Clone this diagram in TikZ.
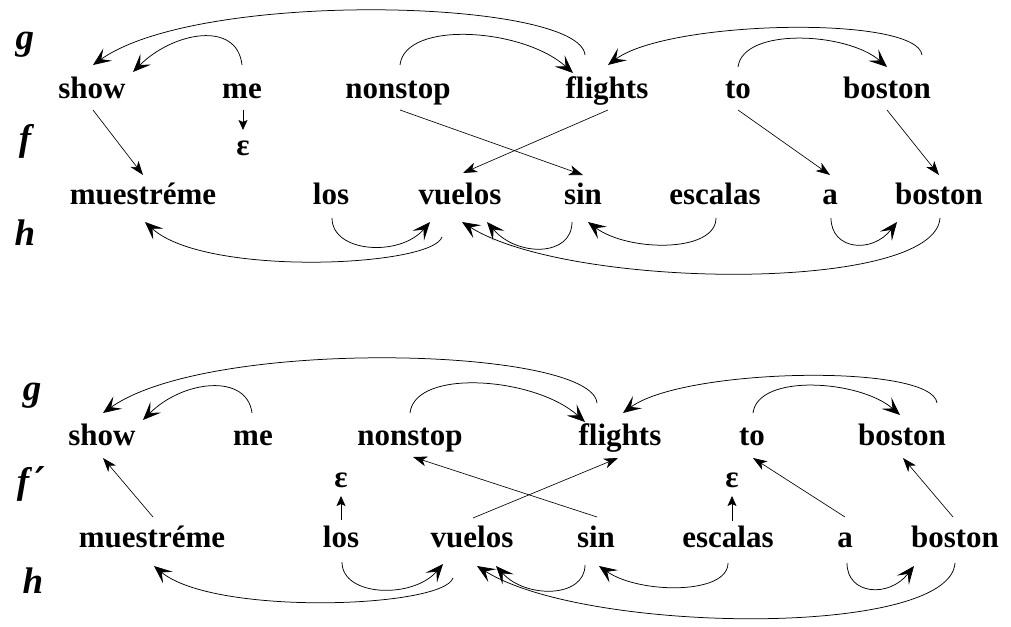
\documentclass[tikz,border=0pt]{standalone}
\usepackage{fontspec}
\newfontfamily\libser{Liberation Serif}
\newfontfamily\dvser{DejaVu Serif}
\usetikzlibrary{arrows.meta,calc}
\tikzset{
  word/.style={font=\libser\bfseries\fontsize{31}{31}\selectfont, anchor=base, inner sep=0pt},
  lbl/.style={font=\libser\bfseries\itshape\fontsize{37}{37}\selectfont, anchor=base, inner sep=0pt},
  arc/.style={line width=0.75pt, -{Stealth[length=18pt,width=15pt,inset=8pt]}},
  link/.style={line width=0.65pt, -{Stealth[length=14pt,width=10pt,inset=4pt]}},
  tiny/.style={line width=0.8pt, -{Stealth[length=10pt,width=9pt,inset=2pt]}},
}
\begin{document}
\begin{tikzpicture}[x=1pt,y=-1pt]
\useasboundingbox (0,0) rectangle (1011,626);
% ---------- top diagram ----------
\node[lbl] (gA) at (25,50) {g};
\node[lbl] (fA) at (25,150) {f};
\node[lbl] (hA) at (25,245) {h};
\node[word] (show) at (92,98) {show};
\node[word] (me) at (242,98) {me};
\node[word] (nonstop) at (398,98) {nonstop};
\node[word] (flights) at (607,98) {flights};
\node[word] (to) at (738,98) {to};
\node[word] (boston) at (887,98) {boston};
\node[word] (epsA) at (243,155) {ε};
\node[word] (muestreme) at (143,204) {muestréme};
\node[word] (los) at (331,204) {los};
\node[word] (vuelos) at (460,204) {vuelos};
\node[word] (sin) at (583,204) {sin};
\node[word] (escalas) at (715,204) {escalas};
\node[word] (a) at (830,204) {a};
\node[word] (bostonB) at (939,204) {boston};
% g arcs
\draw[arc] ($(flights.base)+(-22,-43)$) .. controls +(-5,-56) and +(107,-76) .. ($(show.base)+(1,-33)$);
\draw[arc] ($(me.base)+(0,-33)$) .. controls +(-5,-45) and +(40,-40) .. ($(show.base)+(41,-26)$);
\draw[arc] ($(nonstop.base)+(2,-33)$) .. controls +(5,-45) and +(-50,-45) .. ($(flights.base)+(-34,-25)$);
\draw[arc] ($(boston.base)+(35,-43)$) .. controls +(-5,-40) and +(60,-45) .. ($(flights.base)+(1,-33)$);
\draw[arc] ($(to.base)+(0,-31)$) .. controls +(5,-40) and +(-40,-35) .. ($(boston.base)+(0,-31)$);
% f links
\draw[link] ($(show.base)+(1,12)$) -- ($(muestreme.base)+(0,-29)$);
\draw[tiny] ($(me.base)+(1,12)$) -- ($(epsA.base)+(0,-25)$);
\draw[link] ($(nonstop.base)+(2,12)$) -- ($(sin.base)+(0,-29)$);
\draw[link] ($(flights.base)+(1,12)$) -- ($(vuelos.base)+(3,-31)$);
\draw[link] ($(to.base)+(0,12)$) -- ($(a.base)+(0,-29)$);
\draw[link] ($(boston.base)+(0,12)$) -- ($(bostonB.base)+(0,-29)$);
% h arcs
\draw[arc] ($(vuelos.base)+(-18,33)$) .. controls +(-10,30) and +(60,55) .. ($(muestreme.base)+(2,18)$);
\draw[arc] ($(los.base)+(1,14)$) .. controls +(0,35) and +(-30,35) .. ($(vuelos.base)+(-30,18)$);
\draw[arc] ($(sin.base)+(-11,18)$) .. controls +(0,35) and +(30,35) .. ($(vuelos.base)+(27,18)$);
\draw[arc] ($(escalas.base)+(1,14)$) .. controls +(0,35) and +(40,30) .. ($(sin.base)+(5,18)$);
\draw[arc] ($(a.base)+(1,14)$) .. controls +(0,32) and +(-25,32) .. ($(bostonB.base)+(-42,18)$);
\draw[arc] ($(bostonB.base)+(1,14)$) .. controls +(-5,75) and +(108,68) .. ($(vuelos.base)+(2,18)$);
% ---------- bottom diagram ----------
\node[lbl] (gB) at (32,400) {g};
\node[lbl] (fB) at (31,493) {f\,{\dvser\bfseries\itshape ′}};
\node[lbl] (hB) at (33,593) {h};
\node[word] (show2) at (102,445) {show};
\node[word] (me2) at (253,445) {me};
\node[word] (nonstop2) at (410,445) {nonstop};
\node[word] (flights2) at (620,445) {flights};
\node[word] (to2) at (752,445) {to};
\node[word] (boston3) at (902,445) {boston};
\node[word] (epsB) at (341,487) {ε};
\node[word] (epsC) at (732,487) {ε};
\node[word] (muestreme2) at (152,547) {muestréme};
\node[word] (los2) at (341,547) {los};
\node[word] (vuelos2) at (472,547) {vuelos};
\node[word] (sin2) at (596,547) {sin};
\node[word] (escalas2) at (728,547) {escalas};
\node[word] (a2) at (845,547) {a};
\node[word] (boston4) at (955,547) {boston};
% g arcs
\draw[arc] ($(flights2.base)+(-23,-42)$) .. controls +(-5,-56) and +(107,-76) .. ($(show2.base)+(1,-32)$);
\draw[arc] ($(me2.base)+(-1,-32)$) .. controls +(-5,-40) and +(40,-40) .. ($(show2.base)+(41,-25)$);
\draw[arc] ($(nonstop2.base)+(0,-32)$) .. controls +(5,-45) and +(-50,-45) .. ($(flights2.base)+(-35,-23)$);
\draw[arc] ($(boston3.base)+(35,-42)$) .. controls +(-5,-40) and +(60,-45) .. ($(flights2.base)+(3,-32)$);
\draw[arc] ($(to2.base)+(1,-32)$) .. controls +(5,-40) and +(-40,-35) .. ($(boston3.base)+(-2,-30)$);
% f' links
\draw[link] ($(muestreme2.base)+(1,-30)$) -- ($(show2.base)+(1,13)$);
\draw[tiny] ($(los2.base)+(0,-27)$) -- ($(epsB.base)+(0,9)$);
\draw[tiny] ($(escalas2.base)+(4,-26)$) -- ($(epsC.base)+(0,9)$);
\draw[link] ($(sin2.base)+(1,-30)$) -- ($(nonstop2.base)+(3,12)$);
\draw[link] ($(vuelos2.base)+(1,-29)$) -- ($(flights2.base)+(-2,13)$);
\draw[link] ($(a2.base)+(0,-30)$) -- ($(to2.base)+(1,13)$);
\draw[link] ($(boston4.base)+(-2,-30)$) -- ($(boston3.base)+(1,13)$);
% h arcs
\draw[arc] ($(vuelos2.base)+(-19,31)$) .. controls +(-10,30) and +(60,50) .. ($(muestreme2.base)+(2,19)$);
\draw[arc] ($(los2.base)+(1,15)$) .. controls +(0,35) and +(-30,35) .. ($(vuelos2.base)+(-29,17)$);
\draw[arc] ($(sin2.base)+(-11,18)$) .. controls +(0,33) and +(30,33) .. ($(vuelos2.base)+(24,19)$);
\draw[arc] ($(escalas2.base)+(0,16)$) .. controls +(0,32) and +(40,28) .. ($(sin2.base)+(3,19)$);
\draw[arc] ($(a2.base)+(2,16)$) .. controls +(0,32) and +(-25,32) .. ($(boston4.base)+(-41,19)$);
\draw[arc] ($(boston4.base)+(0,16)$) .. controls +(-5,75) and +(108,68) .. ($(vuelos2.base)+(5,19)$);
\end{tikzpicture}
\end{document}
